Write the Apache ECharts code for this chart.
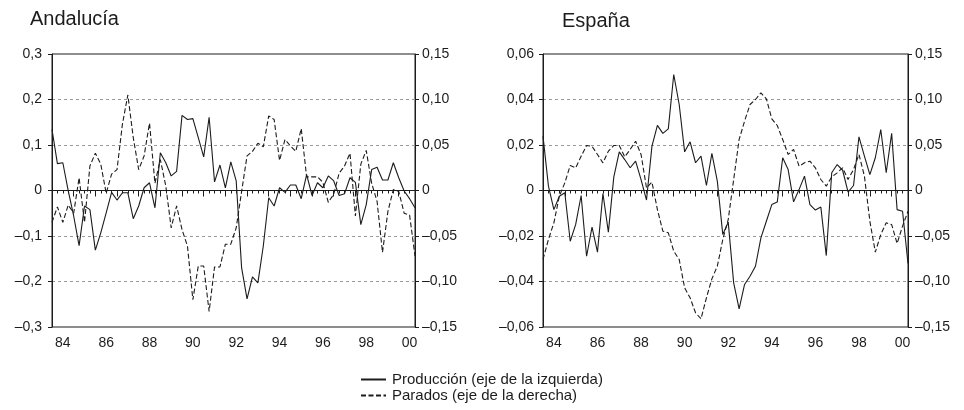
<!DOCTYPE html>
<html>
<head>
<meta charset="utf-8">
<script src="https://cdn.jsdelivr.net/npm/echarts@6/dist/echarts.min.js"></script>
<style>
  html, body { margin: 0; padding: 0; background: #fff; }
  #chart { width: 964px; height: 410px; }
</style>
</head>
<body>
<div id="chart"></div>
<script>
// años del eje (trimestres 1984T1 - 2000T4)
const years = [1984, 1985, 1986, 1987, 1988, 1989, 1990, 1991, 1992, 1993, 1994, 1995, 1996, 1997, 1998, 1999, 2000];
const quarters = [];
years.forEach(y => { for (let q = 1; q <= 4; q++) quarters.push(y + 'Q' + q); });

// Andalucía
const andProduccion = [
  0.134, 0.059, 0.061, -0.001, -0.056, -0.121, -0.034, -0.042, -0.131, -0.093,
  -0.049, -0.004, -0.021, -0.005, -0.005, -0.062, -0.034, 0.006, 0.017, -0.038,
  0.083, 0.061, 0.032, 0.042, 0.165, 0.156, 0.158, 0.116, 0.074, 0.161,
  0.019, 0.056, 0.006, 0.063, 0.021, -0.170, -0.238, -0.190, -0.203, -0.122,
  -0.016, -0.034, 0.006, -0.004, 0.012, 0.012, -0.018, 0.035, -0.011, 0.017,
  0.006, 0.032, 0.021, -0.011, -0.007, 0.028, 0.018, -0.075, -0.031, 0.046,
  0.051, 0.023, 0.023, 0.061, 0.028, -0.001, -0.018, -0.038
];
const andParados = [
  -0.035, -0.018, -0.035, -0.016, -0.025, 0.014, -0.035, 0.027, 0.041, 0.029,
  -0.003, 0.018, 0.023, 0.073, 0.105, 0.058, 0.023, 0.038, 0.074, 0.008,
  0.034, 0.005, -0.041, -0.017, -0.043, -0.061, -0.120, -0.083, -0.083, -0.133,
  -0.084, -0.084, -0.059, -0.059, -0.041, -0.001, 0.038, 0.043, 0.052, 0.048,
  0.082, 0.078, 0.033, 0.056, 0.049, 0.043, 0.068, 0.015, 0.015, 0.015,
  0.009, -0.013, -0.004, 0.019, 0.027, 0.041, -0.028, 0.029, 0.044, 0.008,
  -0.012, -0.068, -0.023, 0.001, -0.001, -0.025, -0.027, -0.072
];

// España
const espProduccion = [
  0.0239, 0.0019, -0.0084, -0.0025, -0.0010, -0.0223, -0.0149, -0.0022, -0.0289, -0.0161,
  -0.0271, -0.0013, -0.0183, 0.0060, 0.0170, 0.0136, 0.0100, 0.0129, 0.0048, -0.0042,
  0.0195, 0.0286, 0.0251, 0.0271, 0.0510, 0.0378, 0.0170, 0.0214, 0.0122, 0.0151,
  0.0022, 0.0163, 0.0041, -0.0193, -0.0139, -0.0406, -0.0520, -0.0413, -0.0377, -0.0333,
  -0.0208, -0.0135, -0.0062, -0.0051, 0.0144, 0.0092, -0.0050, 0.0004, 0.0063, -0.0062,
  -0.0086, -0.0073, -0.0286, 0.0078, 0.0114, 0.0089, -0.0007, 0.0022, 0.0236, 0.0151,
  0.0070, 0.0144, 0.0268, 0.0078, 0.0251, -0.0084, -0.0091, -0.0321
];
const espParados = [
  -0.0758, -0.0538, -0.0355, -0.0062, 0.0084, 0.0275, 0.0249, 0.0377, 0.0495, 0.0487,
  0.0396, 0.0304, 0.0432, 0.0495, 0.0495, 0.0370, 0.0451, 0.0542, 0.0396, 0.0029,
  0.0092, -0.0209, -0.0447, -0.0465, -0.0667, -0.0758, -0.1070, -0.1179, -0.1344, -0.1410,
  -0.1179, -0.0971, -0.0832, -0.0538, -0.0319, 0.0121, 0.0560, 0.0762, 0.0945, 0.1000,
  0.1073, 0.1007, 0.0788, 0.0714, 0.0560, 0.0396, 0.0451, 0.0267, 0.0304, 0.0322,
  0.0249, 0.0121, 0.0048, 0.0150, 0.0194, 0.0249, 0.0121, 0.0231, 0.0396, 0.0158,
  -0.0337, -0.0678, -0.0484, -0.0355, -0.0374, -0.0582, -0.0392, -0.0227
];

const NAME_PROD = 'Producción (eje de la izquierda)';
const NAME_PAR = 'Parados (eje de la derecha)';
const INK = '#1c1c1c';
const FONT = '"Liberation Sans", Arial, Helvetica, sans-serif';
const DASH = [5, 2.5];

// 0,05 / –0,10 ...
const fmt = d => v => Math.abs(v) < 1e-9 ? '0' : (v < 0 ? '–' : '') + Math.abs(v).toFixed(d).replace('.', ',');

function catAxis(grid) {
  return {
    type: 'category', gridIndex: grid, data: quarters, boundaryGap: false,
    axisLine: { lineStyle: { color: INK, width: 1 } },
    axisTick: { interval: 0, length: 3, lineStyle: { color: INK } },
    axisLabel: {
      interval: (i) => i % 8 === 2,
      formatter: v => v.slice(2, 4),
      color: INK, fontSize: 14, margin: 9, fontFamily: FONT
    },
    splitLine: { show: false }
  };
}
// marcas largas de cada año
function yearTicks(grid) {
  return {
    type: 'category', gridIndex: grid, data: quarters, boundaryGap: false, position: 'bottom',
    axisLine: { show: false },
    axisTick: { interval: (i) => i % 4 === 0, length: 6, lineStyle: { color: INK } },
    axisLabel: { show: false },
    splitLine: { show: false }
  };
}
function valAxis(grid, pos, max, step, dec, split, margin) {
  return {
    type: 'value', gridIndex: grid, position: pos,
    min: -max, max: max, interval: step,
    axisLine: { show: true, lineStyle: { color: INK, width: 1 } },
    axisTick: { show: true, length: 4, lineStyle: { color: INK } },
    axisLabel: { formatter: fmt(dec), color: INK, fontSize: 14, margin: margin, fontFamily: FONT },
    splitLine: split ? {
      show: true, showMinLine: false, showMaxLine: false,
      lineStyle: { color: '#9a9a9a', type: [3, 3], width: 1 }
    } : { show: false }
  };
}
const zeroLine = {
  silent: true, symbol: 'none', label: { show: false },
  lineStyle: { color: INK, type: 'solid', width: 1.2 },
  data: [{ yAxis: 0 }]
};
function solid(name, x, y, data) {
  return {
    name, type: 'line', xAxisIndex: x, yAxisIndex: y, data,
    symbol: 'none', lineStyle: { color: INK, width: 1.1 }, itemStyle: { color: INK },
    markLine: zeroLine, z: 3
  };
}
function dashed(name, x, y, data) {
  return {
    name, type: 'line', xAxisIndex: x, yAxisIndex: y, data,
    symbol: 'none', lineStyle: { color: INK, width: 1.1, type: DASH }, itemStyle: { color: INK }, z: 3
  };
}
function legendRow(name, top) {
  return {
    orient: 'horizontal', left: 360, top: top, padding: 0,
    itemWidth: 25, itemHeight: 10, itemGap: 0,
    data: [name],
    itemStyle: { opacity: 0 },
    textStyle: { fontSize: 15, color: INK, fontFamily: FONT, padding: [0, 0, 0, 1] },
    selectedMode: false
  };
}

const chart = echarts.init(document.getElementById('chart'), null, { renderer: 'canvas' });
chart.setOption({
  animation: false,
  backgroundColor: '#fff',
  textStyle: { fontFamily: FONT },
  title: [
    { text: 'Andalucía', left: 25, top: 4, textStyle: { fontSize: 20, fontWeight: 'normal', color: INK, fontFamily: FONT } },
    { text: 'España', left: 557, top: 6, textStyle: { fontSize: 20, fontWeight: 'normal', color: INK, fontFamily: FONT } }
  ],
  legend: [legendRow(NAME_PROD, 372), legendRow(NAME_PAR, 388)],
  grid: [
    { left: 52, right: 549, top: 54, bottom: 83, show: true, borderColor: INK, borderWidth: 1 },
    { left: 543, right: 56, top: 54, bottom: 83, show: true, borderColor: INK, borderWidth: 1 }
  ],
  xAxis: [catAxis(0), yearTicks(0), catAxis(1), yearTicks(1)],
  yAxis: [
    valAxis(0, 'left', 0.3, 0.1, 1, true, 10),
    valAxis(0, 'right', 0.15, 0.05, 2, false, 7),
    valAxis(1, 'left', 0.06, 0.02, 2, true, 9),
    valAxis(1, 'right', 0.15, 0.05, 2, false, 7)
  ],
  series: [
    solid(NAME_PROD, 0, 0, andProduccion),
    dashed(NAME_PAR, 0, 1, andParados),
    solid(NAME_PROD, 2, 2, espProduccion),
    dashed(NAME_PAR, 2, 3, espParados)
  ]
});
</script>
</body>
</html>
